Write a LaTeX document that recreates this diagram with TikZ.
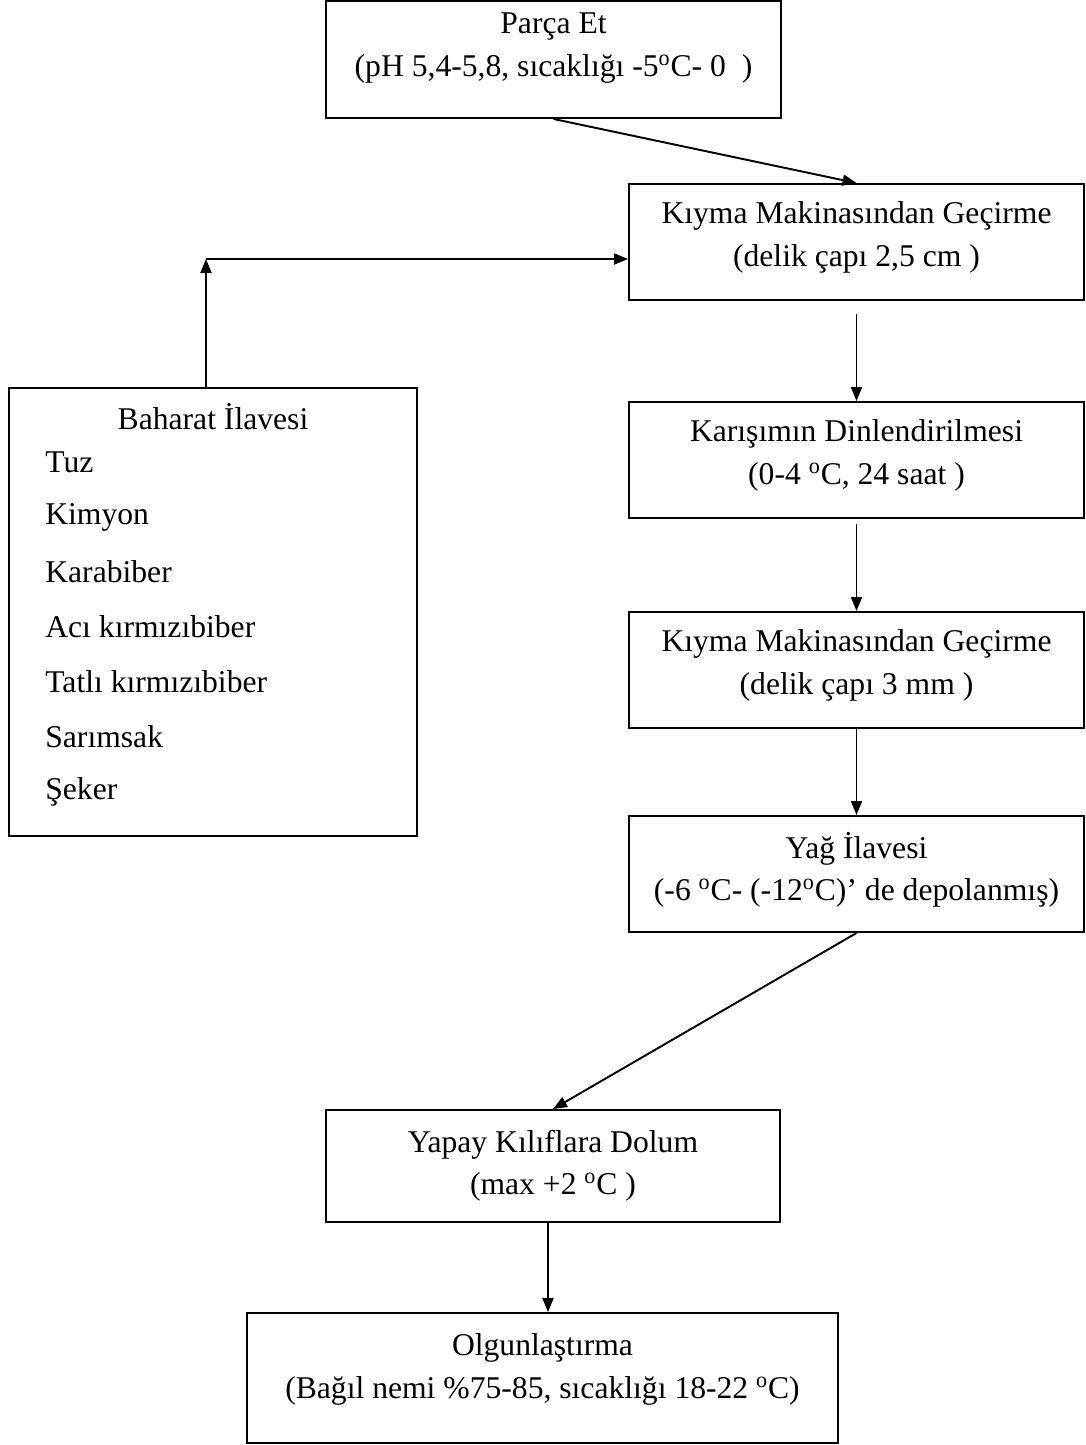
\documentclass[tikz,border=0pt]{standalone}
\usepackage{fontspec}
\setmainfont{Liberation Serif}
\usetikzlibrary{arrows.meta, positioning}

\begin{document}
\begin{tikzpicture}[
  font=\fontsize{18}{24}\selectfont,
  stage/.style={draw, line width=1.1pt, minimum width=9.1cm, minimum height=2.32cm, align=center, inner sep=2pt},
  flow/.style={-{Triangle[length=0.28cm, width=0.22cm]}, line width=1.1pt}
]
\useasboundingbox (0,0) rectangle (21.72,-28.9);
\node[stage, minimum height=2.34cm] (parca) at (11.07,-1.19) {Parça Et\\(pH 5,4-5,8, sıcaklığı -5\textsuperscript{o}C- 0\ \ )\\[-0.5cm]\strut};
\node[stage] (kiyma1) at (17.13,-4.84) {Kıyma Makinasından Geçirme\\(delik çapı 2,5 cm )\\[-0.78cm]\strut};
\node[stage] (karisim) at (17.13,-9.20) {Karışımın Dinlendirilmesi\\(0-4 \textsuperscript{o}C, 24 saat )\\[-0.78cm]\strut};
\node[stage] (kiyma2) at (17.13,-13.40) {Kıyma Makinasından Geçirme\\(delik çapı 3 mm )\\[-0.78cm]\strut};
\node[stage] (yag) at (17.13,-17.48) {Yağ İlavesi\\(-6 \textsuperscript{o}C- (-12\textsuperscript{o}C)’ de depolanmış)\\[-0.78cm]\strut};
\node[stage, minimum width=9.08cm, minimum height=2.24cm] (yapay) at (11.06,-23.32) {Yapay Kılıflara Dolum\\(max +2 \textsuperscript{o}C )\\[-0.94cm]\strut};
\node[stage, minimum width=11.82cm, minimum height=2.6cm] (olgun) at (10.85,-27.56) {Olgunlaştırma\\(Bağıl nemi \%75-85, sıcaklığı 18-22 \textsuperscript{o}C)\\[-0.62cm]\strut};
% spice box on the left
\node[draw, line width=1.1pt, minimum width=8.16cm, minimum height=8.96cm] (baharat) at (4.26,-12.24) {};
\node (baharattitle) at (4.26,-8.34) {Baharat İlavesi};
\foreach \i/\txt in {0/Tuz,1/Kimyon,2/Karabiber,3/{Acı kırmızıbiber},4/{Tatlı kırmızıbiber},5/Sarımsak,6/Şeker} {
  \node[anchor=west, inner sep=0pt] (spice\i) at (0.9,-9.24-\i*1.1) {\txt};
}
\coordinate (turn) at (4.12,-5.18);
\coordinate (hit) at ([yshift=-0.34cm]kiyma1.west);
\draw[flow] (parca.south) -- (kiyma1.north);
\draw[flow] (baharat.north -| turn) -- (turn);
\draw[flow] (turn) -- (hit);
\draw[flow, shorten <=0.26cm] (kiyma1.south) -- (karisim.north);
\draw[flow, shorten <=0.1cm] (karisim.south) -- (kiyma2.north);
\draw[flow] (kiyma2.south) -- (yag.north);
\draw[flow] (yag.south) -- (yapay.north);
\draw[flow] ([xshift=-0.1cm]yapay.south) -- ([xshift=-0.1cm]yapay.south |- olgun.north);
\end{tikzpicture}
\end{document}
